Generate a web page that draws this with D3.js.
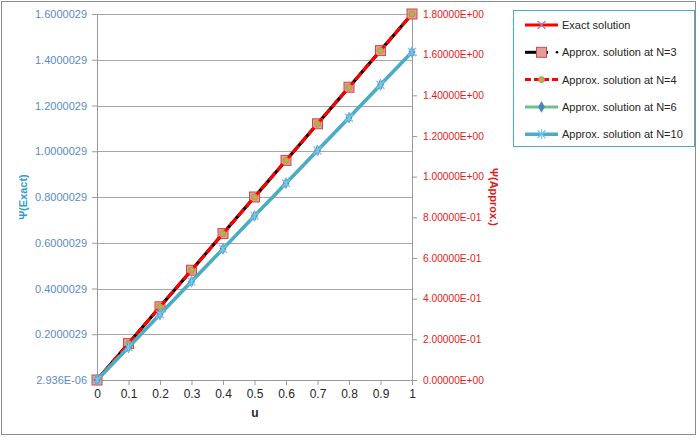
<!DOCTYPE html>
<html>
<head>
<meta charset="utf-8">
<title>Psi chart</title>
<script src="https://d3js.org/d3.v7.min.js"></script>
<style>
  body { margin: 0; background: #fff; }
  text { font-family: "Liberation Sans", Arial, sans-serif; }
</style>
</head>
<body>
<script>
// data
var u = [0, 0.1, 0.2, 0.3, 0.4, 0.5, 0.6, 0.7, 0.8, 0.9, 1];
var exact = [0.000002936, 0.1600029, 0.3200029, 0.4800029, 0.6400029, 0.8000029, 0.9600029, 1.1200029, 1.2800029, 1.4400029, 1.6000029];
var approxN3 = [0, 0.18, 0.36, 0.54, 0.72, 0.90, 1.08, 1.26, 1.44, 1.62, 1.80];
var approxN4 = [0, 0.18, 0.36, 0.54, 0.72, 0.90, 1.08, 1.26, 1.44, 1.62, 1.80];
var approxN6 = [0, 0.161, 0.323, 0.484, 0.645, 0.807, 0.968, 1.129, 1.290, 1.452, 1.613];
var approxN10 = [0, 0.161, 0.323, 0.484, 0.645, 0.807, 0.968, 1.129, 1.290, 1.452, 1.613];

var leftTicks = [0.000002936, 0.2000029, 0.4000029, 0.6000029, 0.8000029, 1.0000029, 1.2000029, 1.4000029, 1.6000029];
var leftTickLabels = ["2.936E-06", "0.2000029", "0.4000029", "0.6000029", "0.8000029", "1.0000029", "1.2000029", "1.4000029", "1.6000029"];
var rightTicks = [0, 0.2, 0.4, 0.6, 0.8, 1.0, 1.2, 1.4, 1.6, 1.8];
var rightTickLabels = ["0.00000E+00", "2.00000E-01", "4.00000E-01", "6.00000E-01", "8.00000E-01", "1.00000E+00", "1.20000E+00", "1.40000E+00", "1.60000E+00", "1.80000E+00"];
var xTicks = [0, 0.1, 0.2, 0.3, 0.4, 0.5, 0.6, 0.7, 0.8, 0.9, 1];
var xTickLabels = ["0", "0.1", "0.2", "0.3", "0.4", "0.5", "0.6", "0.7", "0.8", "0.9", "1"];

var w = 700, h = 441;
var pLeft = 97, pRight = 412, pTop = 14, pBottom = 380;

var svg = d3.select("body").append("svg").attr("width", w).attr("height", h);

// outer frame
svg.append("rect").attr("x", 1.5).attr("y", 1.5).attr("width", 694).attr("height", 433)
  .attr("fill", "#fff").attr("stroke", "#8c8c8c").attr("stroke-width", 1);

var x = d3.scaleLinear().domain([0, 1]).range([pLeft, pRight]);
var yL = d3.scaleLinear().domain([0.000002936, 1.6000029]).range([pBottom, pTop]);
var yR = d3.scaleLinear().domain([0, 1.8]).range([pBottom, pTop]);

// gridlines
svg.append("g").selectAll("line").data(leftTicks.slice(1)).enter().append("line")
  .attr("x1", pLeft).attr("x2", pRight)
  .attr("y1", function(d) { return Math.round(yL(d)) + 0.5; })
  .attr("y2", function(d) { return Math.round(yL(d)) + 0.5; })
  .attr("stroke", "#a6a6a6");

function styleAxis(g, col, size) {
  g.selectAll("path").attr("stroke", "#9a9a9a");
  g.selectAll("line").attr("stroke", "#9a9a9a");
  g.selectAll("text").attr("fill", col).style("font-size", size + "px")
    .style("font-family", "'Liberation Sans', Arial, sans-serif");
}

var axL = d3.axisLeft(yL).tickValues(leftTicks).tickSize(5).tickSizeOuter(0)
  .tickFormat(function(d, i) { return leftTickLabels[i]; });
svg.append("g").attr("transform", "translate(" + pLeft + ",0)").call(axL)
  .call(function(g) { styleAxis(g, "#5b8ac9", 11); g.selectAll("text").attr("x", -10); });

var axR = d3.axisRight(yR).tickValues(rightTicks).tickSize(5).tickSizeOuter(0)
  .tickFormat(function(d, i) { return rightTickLabels[i]; });
svg.append("g").attr("transform", "translate(" + pRight + ",0)").call(axR)
  .call(function(g) { styleAxis(g, "#e21a1a", 10.2); g.selectAll("text").attr("x", 11); });

var axX = d3.axisBottom(x).tickValues(xTicks).tickSize(5).tickSizeOuter(0)
  .tickFormat(function(d, i) { return xTickLabels[i]; });
svg.append("g").attr("transform", "translate(0," + pBottom + ")").call(axX)
  .call(function(g) { styleAxis(g, "#262626", 12); g.selectAll("text").attr("y", 9); });

// axis titles
svg.append("text").attr("transform", "translate(27,197) rotate(-90)")
  .attr("text-anchor", "middle").attr("font-weight", "bold").attr("font-size", 11)
  .attr("fill", "#2f9bd3").text("Ψ(Exact)");
svg.append("text").attr("transform", "translate(490,197) rotate(90)")
  .attr("text-anchor", "middle").attr("font-weight", "bold").attr("font-size", 11)
  .attr("fill", "#e21a1a").text("Ψ(Approx.)");
svg.append("text").attr("x", 255).attr("y", 417)
  .attr("text-anchor", "middle").attr("font-weight", "bold").attr("font-size", 12)
  .attr("fill", "#262626").text("u");

// series
var series = [
  { name: "Exact solution", vals: exact, y: yL, color: "#ff0000", width: 3, dash: null, marker: "x", mfill: "none", mstroke: "#9580b5" },
  { name: "Approx. solution at N=3", vals: approxN3, y: yR, color: "#000000", width: 3, dash: null, marker: "square", mfill: "#e59c99", mstroke: "#c0504d" },
  { name: "Approx. solution at N=4", vals: approxN4, y: yR, color: "#ff0000", width: 3, dash: "9,3", marker: "circle", mfill: "#a8b84f", mstroke: "#e07b39" },
  { name: "Approx. solution at N=6", vals: approxN6, y: yR, color: "#6cc08f", width: 3, dash: null, marker: "diamond", mfill: "#4f81bd", mstroke: "#4f81bd" },
  { name: "Approx. solution at N=10", vals: approxN10, y: yR, color: "#4bacc6", width: 3.5, dash: null, marker: "star", mfill: "none", mstroke: "#4bacc6" }
];

function drawMarker(g, type, cx, cy, s) {
  if (type === "square") {
    g.append("rect").attr("x", cx - 5).attr("y", cy - 5).attr("width", 10).attr("height", 10)
      .attr("fill", s.mfill).attr("stroke", s.mstroke).attr("stroke-width", 1);
  } else if (type === "circle") {
    g.append("circle").attr("cx", cx).attr("cy", cy).attr("r", 3)
      .attr("fill", s.mfill).attr("stroke", s.mstroke).attr("stroke-width", 0.8);
  } else if (type === "diamond") {
    g.append("path").attr("d", d3.symbol().type(d3.symbolDiamond).size(40)())
      .attr("transform", "translate(" + cx + "," + cy + ")").attr("fill", s.mfill);
  } else if (type === "x") {
    g.append("path").attr("d", "M-4,-4L4,4M-4,4L4,-4")
      .attr("transform", "translate(" + cx + "," + cy + ")").attr("stroke", s.mstroke).attr("stroke-width", 1.2);
  } else if (type === "star") {
    g.append("path").attr("d", "M-4,-4L4,4M-4,4L4,-4M0,-5L0,5")
      .attr("transform", "translate(" + cx + "," + cy + ")").attr("stroke", "#7cc6e6").attr("stroke-width", 1.3);
  }
}

series.forEach(function(s) {
  var line = d3.line().x(function(d, i) { return x(u[i]); }).y(function(d) { return s.y(d); });
  svg.append("path").datum(s.vals).attr("d", line).attr("fill", "none")
    .attr("stroke", s.color).attr("stroke-width", s.width)
    .attr("stroke-dasharray", s.dash);
  var g = svg.append("g");
  s.vals.forEach(function(v, i) { drawMarker(g, s.marker, x(u[i]), s.y(v), s); });
});

// legend
var lg = svg.append("g");
lg.append("rect").attr("x", 513.5).attr("y", 10.5).attr("width", 181).attr("height", 136)
  .attr("fill", "#fff").attr("stroke", "#4bacc6");
series.forEach(function(s, i) {
  var ly = 25 + i * 27.3;
  var x2 = (i === 1) ? 548 : 558;
  lg.append("line").attr("x1", 525).attr("x2", x2).attr("y1", ly).attr("y2", ly)
    .attr("stroke", s.color).attr("stroke-width", s.width)
    .attr("stroke-dasharray", s.dash === null ? null : "6,3");
  drawMarker(lg, s.marker, 541.5, ly, s);
  lg.append("text").attr("x", 562).attr("y", ly + 4).attr("font-size", 11)
    .attr("fill", "#262626").text(s.name);
});
lg.append("circle").attr("cx", 557).attr("cy", 52.3).attr("r", 1.3).attr("fill", "#000");
</script>
</body>
</html>
